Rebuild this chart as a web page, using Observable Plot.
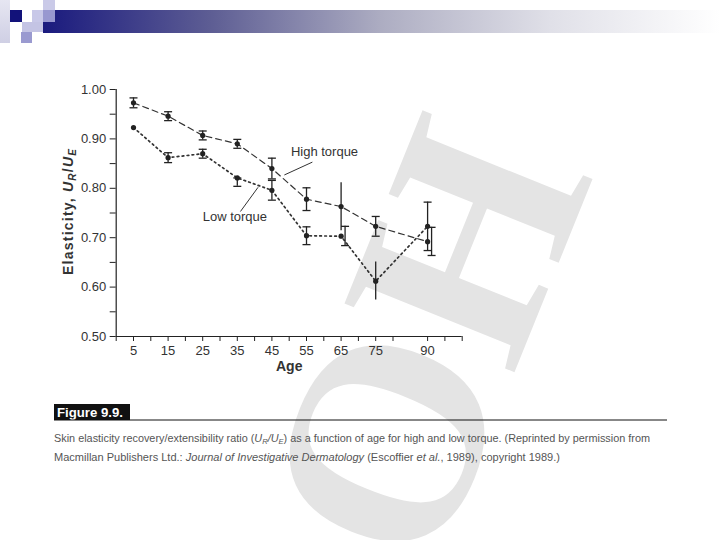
<!DOCTYPE html>
<html>
<head>
<meta charset="utf-8">
<script src="https://cdn.jsdelivr.net/npm/d3@7"></script>
<script src="https://cdn.jsdelivr.net/npm/@observablehq/plot@0.6"></script>
<style>
  body { margin: 0; background: #fff; }
  #page { position: relative; width: 720px; height: 540px; overflow: hidden; background: #fff; font-family: "Liberation Sans", Arial, sans-serif; }
  .layer { position: absolute; left: 0; top: 0; }
</style>
</head>
<body>
<div id="page">
  <svg id="bg" class="layer" width="720" height="540">
    <defs>
      <linearGradient id="bar" x1="0" x2="1" y1="0" y2="0">
        <stop offset="0" stop-color="#1a1a7e"/>
        <stop offset="0.25" stop-color="#5e5e94"/>
        <stop offset="0.5" stop-color="#adadc2"/>
        <stop offset="0.75" stop-color="#e0e0e8"/>
        <stop offset="1" stop-color="#ffffff"/>
      </linearGradient>
      <linearGradient id="col" x1="0" x2="0" y1="0" y2="1">
        <stop offset="0" stop-color="#e6e6f2"/>
        <stop offset="1" stop-color="#cfcfe4"/>
      </linearGradient>
    </defs>
    <rect x="43" y="10" width="677" height="23" fill="url(#bar)"/>
    <rect x="0" y="0" width="10" height="43" fill="url(#col)"/>
    <rect x="10" y="10" width="12" height="12" fill="#12127a"/>
    <rect x="22" y="22" width="21" height="10" fill="#c4c4e4"/>
    <rect x="21" y="32" width="11" height="11" fill="#9a9ad0"/>
    <rect x="32" y="10" width="11" height="12" fill="#c8c8e8"/>
    <rect x="43" y="0" width="12" height="10" fill="#cacae8"/>
    <rect x="43" y="10" width="12" height="12" fill="#9898d0"/>
    <text transform="translate(427,342) rotate(-68)" text-anchor="middle" dy="0.33em"
      font-family="Liberation Serif, DejaVu Serif, serif" font-size="280" font-weight="bold" fill="#e4e4e4">OH</text>
  </svg>
  <div id="chart" class="layer"></div>
  <svg id="fg" class="layer" width="720" height="540" style="pointer-events:none">
    <text id="ylab" transform="translate(73,212) rotate(-90)" text-anchor="middle"
      font-family="Liberation Sans, Arial, sans-serif" font-size="14" font-weight="bold" fill="#333"
      textLength="126" lengthAdjust="spacing">Elasticity, <tspan font-style="italic">U</tspan><tspan font-style="italic" font-size="10" dy="3">R</tspan><tspan dy="-3">/</tspan><tspan font-style="italic">U</tspan><tspan font-style="italic" font-size="10" dy="3">E</tspan></text>
    <rect x="54" y="404" width="76" height="16" fill="#111"/>
    <text x="57" y="416.5" font-family="Liberation Sans, Arial, sans-serif" font-size="12" font-weight="bold" fill="#fff"
      textLength="66" lengthAdjust="spacingAndGlyphs">Figure 9.9.</text>
    <line x1="54" x2="667" y1="420" y2="420" stroke="#111" stroke-width="1"/>
    <text x="54" y="442" font-family="Liberation Sans, Arial, sans-serif" font-size="11.5" fill="#555"
      textLength="596" lengthAdjust="spacingAndGlyphs">Skin elasticity recovery/extensibility ratio (<tspan font-style="italic">U</tspan><tspan font-style="italic" font-size="8" dy="2">R</tspan><tspan font-style="italic" dy="-2">/U</tspan><tspan font-style="italic" font-size="8" dy="2">E</tspan><tspan dy="-2">) as a function of age for high and low torque. (Reprinted by permission from</tspan></text>
    <text x="54" y="461" font-family="Liberation Sans, Arial, sans-serif" font-size="11.5" fill="#555"
      textLength="506" lengthAdjust="spacingAndGlyphs">Macmillan Publishers Ltd.: <tspan font-style="italic">Journal of Investigative Dermatology</tspan> (Escoffier <tspan font-style="italic">et al.</tspan>, 1989), copyright 1989.)</text>
  </svg>
</div>
<script>
// ---- data ----
const ages = [5, 15, 25, 35, 45, 55, 65, 75, 90];
const highTorque = [0.973, 0.946, 0.907, 0.890, 0.840, 0.778, 0.763, 0.723, 0.692];
const highLower  = [0.963, 0.937, 0.898, 0.881, 0.819, 0.755, 0.714, 0.703, 0.664];
const highUpper  = [0.983, 0.955, 0.916, 0.899, 0.861, 0.801, 0.811, 0.743, 0.721];
const lowTorque  = [0.923, 0.862, 0.870, 0.821, 0.796, 0.704, 0.703, 0.612, 0.723];
const lowLower   = [null, 0.852, 0.861, 0.804, 0.776, 0.686, 0.684, 0.574, 0.674];
const lowUpper   = [null, 0.872, 0.879, 0.821, 0.816, 0.722, 0.723, 0.651, 0.772];
const xTickValues = [0, 5, 10, 15, 20, 25, 30, 35, 40, 45, 50, 55, 60, 65, 70, 75, 80, 90, 95, 100];
const xTickLabels = [5, 15, 25, 35, 45, 55, 65, 75, 90];
const yTickValues = [0.50, 0.55, 0.60, 0.65, 0.70, 0.75, 0.80, 0.85, 0.90, 0.95, 1.00];
const yTickLabels = [0.50, 0.60, 0.70, 0.80, 0.90, 1.00];
const labelText = ["High torque", "Low torque"];
const labelAge = [60.2, 34.3];
const labelValue = [0.873, 0.743];
const leaderFrom = [[56.7, 0.853], [35.9, 0.753]];
const leaderTo = [[48.6, 0.827], [41.0, 0.802]];

// ---- build tables ----
const shiftedBars = {high: [90], low: [65]}; // bars drawn just to the right of the point
const shift = 1.15;
function rows(values, lower, upper, key) {
  return ages.map((a, i) => ({
    age: a,
    barAge: shiftedBars[key].includes(a) ? a + shift : a,
    v: values[i], lo: lower[i], hi: upper[i],
    cap: !((key === "high" && a === 65) || (key === "low" && a === 75))
  }));
}
const high = rows(highTorque, highLower, highUpper, "high");
const low = rows(lowTorque, lowLower, lowUpper, "low");
const bars = [...high, ...low].filter(d => d.lo != null);
const caps = bars.filter(d => d.cap);
const labels = labelText.map((t, i) => ({t, age: labelAge[i], v: labelValue[i]}));
const leaders = leaderFrom.map((f, i) => ({x1: f[0], y1: f[1], x2: leaderTo[i][0], y2: leaderTo[i][1]}));

const capSymbol = {draw(ctx) { ctx.moveTo(-4, 0); ctx.lineTo(4, 0); }};
const ink = "#222";

const fmtY = d => yTickLabels.some(t => Math.abs(t - d) < 1e-9) ? d3.format(".2f")(d) : "";
const fmtX = d => xTickLabels.includes(d) ? String(d) : "";

const chart = Plot.plot({
  width: 720,
  height: 390,
  marginLeft: 115.7,
  marginRight: 258.3,
  marginTop: 89,
  marginBottom: 54,
  style: {background: "transparent", color: "#333", fontFamily: "Liberation Sans, Arial, sans-serif", fontSize: "13px", overflow: "visible"},
  x: {domain: [0, 100]},
  y: {domain: [0.5, 1.0]},
  marks: [
    Plot.axisY(yTickValues, {tickSize: 6, tickPadding: 4, tickFormat: fmtY, label: null, stroke: ink, fill: "#333"}),
    Plot.axisX(xTickValues, {tickSize: 5, tickPadding: 4, tickFormat: fmtX, label: null, stroke: ink, fill: "#333"}),
    Plot.ruleX([0], {y1: 0.5, y2: 1.0, stroke: ink, strokeWidth: 1.2}),
    Plot.ruleY([0.5], {x1: 0, x2: 100, stroke: ink, strokeWidth: 1.2}),
    Plot.text(["Age"], {frameAnchor: "bottom", dy: 34, text: d => d, fontWeight: "bold", fontSize: 14, fill: "#333"}),
    Plot.line(high, {x: "age", y: "v", stroke: "#333", strokeWidth: 1.2, strokeDasharray: "6,4"}),
    Plot.line(low, {x: "age", y: "v", stroke: "#333", strokeWidth: 1.7, strokeDasharray: "1.7,3.3"}),
    Plot.ruleX(bars, {x: "barAge", y1: "lo", y2: "hi", stroke: ink, strokeWidth: 1.3}),
    Plot.dot(caps, {x: "barAge", y: "lo", symbol: capSymbol, stroke: ink, strokeWidth: 1.3, fill: "none"}),
    Plot.dot(caps, {x: "barAge", y: "hi", symbol: capSymbol, stroke: ink, strokeWidth: 1.3, fill: "none"}),
    Plot.dot(high, {x: "age", y: "v", r: 2.6, fill: ink}),
    Plot.dot(low, {x: "age", y: "v", r: 2.6, fill: ink}),
    Plot.link(leaders, {x1: "x1", y1: "y1", x2: "x2", y2: "y2", stroke: "#333", strokeWidth: 1}),
    Plot.text(labels, {x: "age", y: "v", text: "t", fontSize: 13, fill: "#333"})
  ]
});
document.getElementById("chart").appendChild(chart);
</script>
</body>
</html>
